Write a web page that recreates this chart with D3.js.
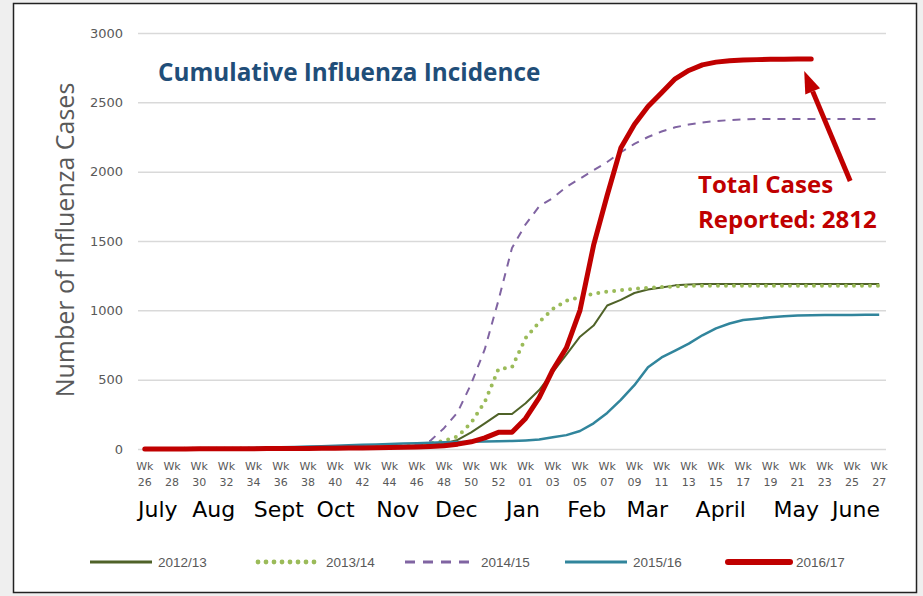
<!DOCTYPE html>
<html>
<head>
<meta charset="utf-8">
<script src="https://cdn.jsdelivr.net/npm/d3@7"></script>
<style>
  body { margin: 0; background: #efefef; }
  svg { display: block; }
</style>
</head>
<body>
<div id="chart"></div>
<script>
// week labels along the x axis (week 26 .. 53, then 1 .. 27)
var weeks = d3.range(26, 54).concat(d3.range(1, 28));

var months = ["July", "Aug", "Sept", "Oct", "Nov", "Dec", "Jan", "Feb", "Mar", "April", "May", "June"];
// where each month name sits, as a week index
var monthAt = [0.96, 5.07, 9.85, 14.03, 18.6, 22.9, 27.8, 32.5, 36.95, 42.35, 47.9, 52.3];

var yTicks = [0, 500, 1000, 1500, 2000, 2500, 3000];

var s1213 = [0,0,1,1,2,2,3,3,4,5,6,7,8,9,10,12,14,16,18,20,
  25,32,40,65,120,185,252,252,330,425,555,680,810,890,1035,1075,1125,1150,1165,1180,1186,
  1190,1190,1190,1190,1190,1190,1190,1190,1190,1190,1190,1190,1190,1190];

var s1314 = [0,0,0,1,1,2,2,3,3,4,5,5,6,7,8,10,12,14,16,20,
  28,40,60,90,190,340,575,590,800,915,1010,1070,1095,1120,1135,1145,1155,1162,1168,1172,
  1176,1178,1178,1178,1178,1178,1178,1178,1178,1178,1178,1178,1178,1178,1178];

var s1415 = [0,0,0,0,1,1,2,2,3,3,4,5,6,7,8,10,12,14,17,22,
  32,60,150,265,470,720,1070,1450,1620,1750,1810,1890,1950,2010,2070,2140,2200,2250,2290,2320,
  2340,2355,2365,2372,2377,2380,2380,2380,2380,2380,2380,2380,2380,2380,2380];

var s1516 = [0,0,1,2,3,4,5,6,8,10,12,15,18,20,23,27,30,33,36,40,
  42,45,48,50,52,54,56,58,62,68,85,100,130,185,260,355,460,590,660,710,
  760,820,870,905,930,940,950,958,963,965,966,967,967,968,968];

var s1617 = [0,0,0,0,1,1,1,2,2,3,3,4,4,5,6,7,8,9,10,12,
  14,18,24,35,52,80,120,120,220,370,570,730,1000,1470,1830,2170,2340,2470,2570,2670,
  2730,2770,2790,2800,2805,2808,2810,2811,2812,2812,null,null,null,null,null];

var seriesNames = ["2012/13", "2013/14", "2014/15", "2015/16", "2016/17"];
var seriesData = [s1213, s1314, s1415, s1516, s1617];

var styles = [
  {color: "#4f6228", width: 2, dash: null, cap: "butt"},
  {color: "#9bbb59", width: 4, dash: "0 8", cap: "round"},
  {color: "#8064a2", width: 2, dash: "8 7", cap: "butt"},
  {color: "#31859c", width: 2.5, dash: null, cap: "butt"},
  {color: "#c00000", width: 5, dash: null, cap: "round"}
];

var W = 923, H = 596;

var svg = d3.select("#chart").append("svg")
  .attr("width", W).attr("height", H);

// white card with a dark border
svg.append("rect")
  .attr("x", 13.5).attr("y", 3.5)
  .attr("width", 903).attr("height", 589)
  .attr("fill", "#fff").attr("stroke", "#222").attr("stroke-width", 1.5);

var x = d3.scalePoint()
  .domain(d3.range(weeks.length))
  .range([138, 886])
  .padding(0.5);

var xi = d3.scaleLinear()
  .domain([0, weeks.length - 1])
  .range([x(0), x(weeks.length - 1)]);

var y = d3.scaleLinear().domain([0, 3000]).range([449, 33]);

// gridlines + y labels
var yAxis = d3.axisLeft(y).tickValues(yTicks).tickFormat(d3.format("d"))
  .tickSize(-(886 - 138)).tickPadding(15);
var gy = svg.append("g")
  .attr("transform", "translate(138,0)")
  .call(yAxis);
gy.select(".domain").remove();
gy.selectAll(".tick line").attr("stroke", "#d9d9d9").attr("stroke-width", 1.5);
gy.selectAll(".tick text")
  .attr("fill", "#595959")
  .style("font", "13px 'DejaVu Sans'");

// week tick labels, every other week
var shown = d3.range(0, weeks.length, 2);
var wk = svg.append("g").selectAll("g").data(shown).enter().append("g")
  .attr("transform", function(d) { return "translate(" + x(d) + ",0)"; });
wk.append("text")
  .attr("y", 470).attr("text-anchor", "middle")
  .attr("fill", "#595959").style("font", "11px 'DejaVu Sans'")
  .text("Wk");
wk.append("text")
  .attr("y", 486).attr("text-anchor", "middle")
  .attr("fill", "#595959").style("font", "11px 'DejaVu Sans'")
  .text(function(d) { return d3.format("02")(weeks[d]); });

// month names
svg.append("g").selectAll("text").data(months).enter().append("text")
  .attr("x", function(d, i) { return xi(monthAt[i]); })
  .attr("y", 517)
  .attr("text-anchor", "middle")
  .attr("fill", "#000")
  .style("font", "22px 'DejaVu Sans'")
  .text(function(d) { return d; });

// y axis title
svg.append("text")
  .attr("transform", "translate(74,240) rotate(-90)")
  .attr("text-anchor", "middle")
  .attr("fill", "#595959")
  .style("font", "25px 'Open Sans'")
  .text("Number of Influenza Cases");

// chart title
svg.append("text")
  .attr("x", 158).attr("y", 81)
  .attr("fill", "#1f4e79")
  .style("font", "bold 24.3px 'Open Sans'")
  .text("Cumulative Influenza Incidence");

// the lines
var line = d3.line()
  .defined(function(d) { return d != null; })
  .x(function(d, i) { return x(i); })
  .y(function(d) { return y(d); });

svg.append("g").selectAll("path").data(seriesData).enter().append("path")
  .attr("d", line)
  .attr("fill", "none")
  .attr("stroke", function(d, i) { return styles[i].color; })
  .attr("stroke-width", function(d, i) { return styles[i].width; })
  .attr("stroke-dasharray", function(d, i) { return styles[i].dash; })
  .attr("stroke-linecap", function(d, i) { return styles[i].cap; })
  .attr("stroke-linejoin", "round");

// annotation
var last = s1617.filter(function(d) { return d != null; });
var lastI = last.length - 1;
var tipX = x(lastI) - 7, tipY = y(last[lastI]) + 12;
var tailX = tipX + 46, tailY = tipY + 110;
var ang = Math.atan2(tipY - tailY, tipX - tailX);
var hl = 22, hw = 8;
var bx = tipX - hl * Math.cos(ang), by = tipY - hl * Math.sin(ang);
svg.append("line")
  .attr("x1", tailX).attr("y1", tailY)
  .attr("x2", bx).attr("y2", by)
  .attr("stroke", "#c00000").attr("stroke-width", 5);
svg.append("path")
  .attr("d", "M" + tipX + "," + tipY +
    "L" + (bx + hw * Math.sin(ang)) + "," + (by - hw * Math.cos(ang)) +
    "L" + (bx - hw * Math.sin(ang)) + "," + (by + hw * Math.cos(ang)) + "Z")
  .attr("fill", "#c00000");

svg.append("text")
  .attr("x", 698).attr("y", 193)
  .attr("fill", "#c00000")
  .style("font", "bold 24px 'Open Sans'")
  .text("Total Cases");
svg.append("text")
  .attr("x", 698).attr("y", 228)
  .attr("fill", "#c00000")
  .style("font", "bold 24px 'Open Sans'")
  .text("Reported: " + last[lastI]);

// legend
var legendX = [90, 258, 405, 565, 728];
var lg = svg.append("g").selectAll("g").data(seriesNames).enter().append("g")
  .attr("transform", function(d, i) { return "translate(" + legendX[i] + ",562)"; });
lg.append("line")
  .attr("x1", 0).attr("x2", function(d, i) { return i == 2 ? 66 : 62; })
  .attr("stroke", function(d, i) { return styles[i].color; })
  .attr("stroke-width", function(d, i) { return Math.max(3, styles[i].width * 1.2); })
  .attr("stroke-dasharray", function(d, i) { return i == 2 ? "10 8" : styles[i].dash; })
  .attr("stroke-linecap", function(d, i) { return styles[i].cap; });
lg.append("text")
  .attr("x", function(d, i) { return i == 2 ? 76 : 68; })
  .attr("y", 5)
  .attr("fill", "#595959")
  .style("font", "13.5px 'Liberation Sans'")
  .text(function(d) { return d; });
</script>
</body>
</html>
